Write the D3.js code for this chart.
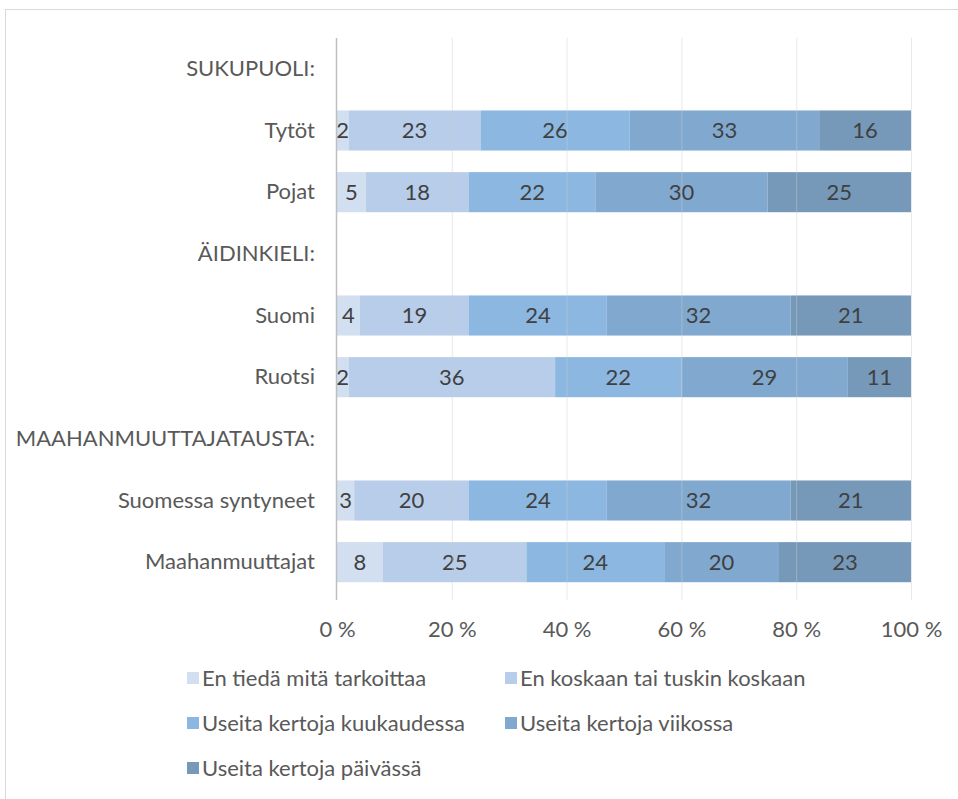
<!DOCTYPE html>
<html>
<head>
<meta charset="utf-8">
<script src="https://cdn.jsdelivr.net/npm/d3@7"></script>
<style>
  body { margin: 0; background: #fff; }
  svg text { font-family: Lato, "Open Sans", sans-serif; }
</style>
</head>
<body>
<svg id="chart" width="958" height="799"></svg>
<script>
// rows in display order; headers have no values
const rows = ["SUKUPUOLI:", "Tytöt", "Pojat", "ÄIDINKIELI:", "Suomi", "Ruotsi",
              "MAAHANMUUTTAJATAUSTA:", "Suomessa syntyneet", "Maahanmuuttajat"];
const seriesNames = ["En tiedä mitä tarkoittaa", "En koskaan tai tuskin koskaan",
                     "Useita kertoja kuukaudessa", "Useita kertoja viikossa", "Useita kertoja päivässä"];
const seriesColors = ["#d2dff0", "#b8cde9", "#8bb7e1", "#81a9d0", "#7699ba"];
const values = {
  "Tytöt":              [2, 23, 26, 33, 16],
  "Pojat":              [5, 18, 22, 30, 25],
  "Suomi":              [4, 19, 24, 32, 21],
  "Ruotsi":             [2, 36, 22, 29, 11],
  "Suomessa syntyneet": [3, 20, 24, 32, 21],
  "Maahanmuuttajat":    [8, 25, 24, 20, 23]
};
const ticks = [0, 20, 40, 60, 80, 100];

const FONT = 22;
const svg = d3.select("#chart");

// outer chart border
svg.append("rect")
  .attr("x", 5.5).attr("y", 9.5).attr("width", 980).attr("height", 820)
  .attr("fill", "none").attr("stroke", "#d9d9d9");

const x = d3.scaleLinear().domain([0, 100]).range([337, 911]);
const y = d3.scaleBand().domain(rows).range([38, 593]).paddingInner(0.35).paddingOuter(0.175);

// stacked data
const dataRows = rows.filter(r => values[r]);
const table = dataRows.map(r => {
  const o = { cat: r };
  seriesNames.forEach((s, i) => o[s] = values[r][i]);
  return o;
});
const stacked = d3.stack().keys(seriesNames)(table);

const g = svg.append("g");
stacked.forEach((layer, i) => {
  layer.forEach(d => {
    const x0 = x(d[0]), x1 = x(d[1]);
    g.append("rect")
      .attr("x", x0).attr("width", x1 - x0)
      .attr("y", y(d.data.cat)).attr("height", y.bandwidth())
      .attr("fill", seriesColors[i]);
    g.append("text")
      .attr("x", (x0 + x1) / 2)
      .attr("y", y(d.data.cat) + y.bandwidth() / 2)
      .attr("dy", "0.36em")
      .attr("text-anchor", "middle")
      .attr("font-size", FONT)
      .attr("fill", "#404040")
      .text(d[1] - d[0]);
  });
});

// gridlines over the bars, faint
svg.append("g").selectAll("line")
  .data(ticks.slice(1))
  .join("line")
  .attr("x1", d => x(d) + 0.5).attr("x2", d => x(d) + 0.5)
  .attr("y1", 38).attr("y2", 600)
  .attr("stroke", "#cfcfcf").attr("stroke-opacity", 0.45);

// vertical axis line
svg.append("line")
  .attr("x1", x(0) - 0.5).attr("x2", x(0) - 0.5)
  .attr("y1", 38).attr("y2", 600)
  .attr("stroke", "#bfbfbf").attr("stroke-width", 1.5);

// x tick labels
const xAxis = d3.axisBottom(x).tickValues(ticks).tickFormat(d => d + " %").tickSize(0).tickPadding(0);
const xa = svg.append("g").attr("transform", "translate(0,629)").call(xAxis);
xa.select(".domain").remove();
xa.selectAll("text")
  .attr("dy", "0.36em").attr("y", 0)
  .attr("font-size", FONT).attr("fill", "#595959")
  .attr("font-family", "Lato, Open Sans, sans-serif");

// category labels
const yAxis = d3.axisLeft(y).tickSize(0).tickPadding(0);
const ya = svg.append("g").attr("transform", "translate(315,0)").call(yAxis);
ya.select(".domain").remove();
ya.selectAll("text")
  .attr("font-size", FONT).attr("fill", "#595959")
  .attr("font-family", "Lato, Open Sans, sans-serif");

// legend
const legendPos = [[187, 678], [505, 678], [187, 723], [505, 723], [187, 768]];
const lg = svg.append("g");
seriesNames.forEach((s, i) => {
  const [lx, ly] = legendPos[i];
  lg.append("rect")
    .attr("x", lx).attr("y", ly - 6).attr("width", 12).attr("height", 12)
    .attr("fill", seriesColors[i]);
  lg.append("text")
    .attr("x", lx + 15).attr("y", ly).attr("dy", "0.36em")
    .attr("font-size", FONT).attr("fill", "#595959")
    .text(s);
});
</script>
</body>
</html>
